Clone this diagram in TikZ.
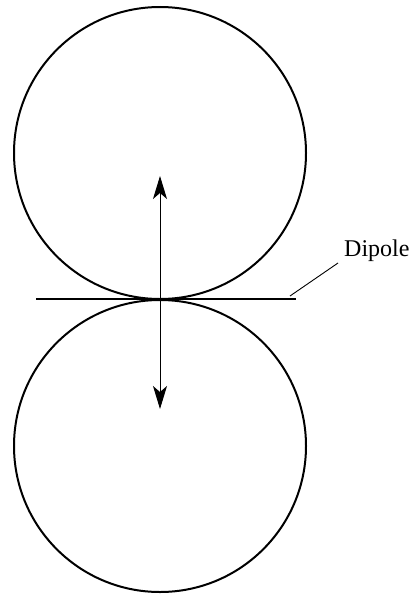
\documentclass[tikz,border=0pt]{standalone}
\usepackage{fontspec}
\setmainfont{Liberation Serif}
\usetikzlibrary{arrows.meta}
\begin{document}
\begin{tikzpicture}[x=1pt,y=-1pt,
  ring/.style={draw,circle,line width=2pt,minimum size=292pt,inner sep=0pt},
  dip/.style={line width=2.6pt},
  arr/.style={line width=1pt,-{Stealth[length=23pt,width=14pt,inset=6pt]}},
  lead/.style={line width=0.9pt},
  lbl/.style={font=\fontsize{24}{24}\selectfont,inner sep=0pt,anchor=base west}]
\useasboundingbox (0,0) rectangle (413,597);
\node[ring] (top) at (160,153) {};
\node[ring] (bot) at (160,446) {};
\coordinate (c) at (160,299);
\coordinate (L) at (36,299);
\coordinate (R) at (296,299);
\coordinate (up) at (160,176);
\coordinate (dn) at (160,409);
\draw[dip] (L) -- (R);
\draw[arr] (c) -- (up);
\draw[arr] (c) -- (dn);
\node[lbl] (d) at (344,256) {Dipole};
\coordinate (la) at (290,296);
\coordinate (lb) at (338,263);
\draw[lead] (la) -- (lb);
\end{tikzpicture}
\end{document}
